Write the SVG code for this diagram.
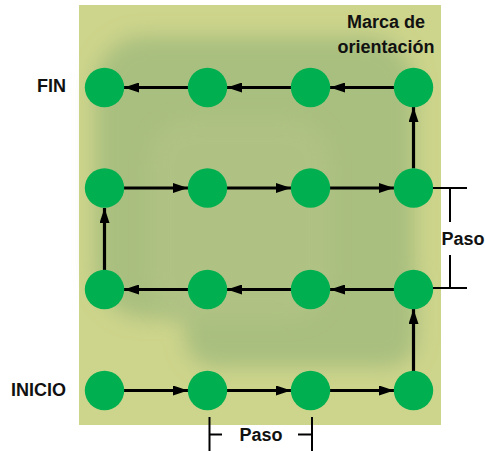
<svg xmlns="http://www.w3.org/2000/svg" width="485" height="451" viewBox="0 0 485 451">
  <style>
    .dot { fill: #00b050; }
    .link { stroke: #000; stroke-width: 3.2; fill: none; marker-end: url(#head); }
    .dim { stroke: #000; stroke-width: 2; fill: none; }
    .lbl { font-family: "Liberation Sans", Arial, sans-serif; font-weight: bold; font-size: 18px; fill: #111; }
  </style>
  <defs>
    <marker id="head" viewBox="0 0 15 10" refX="15" refY="5" markerWidth="15" markerHeight="10" markerUnits="userSpaceOnUse" orient="auto">
      <path d="M0,0 L15,5 L0,10 Z" fill="#000"/>
    </marker>
    <filter id="soft" x="-20%" y="-20%" width="140%" height="140%">
      <feGaussianBlur stdDeviation="10"/>
    </filter>
  </defs>

  <!-- board -->
  <rect x="79" y="5" width="362" height="420" fill="#cdd48b"/>
  <g filter="url(#soft)" fill="#a9bf7f">
    <rect x="95" y="36" width="320" height="282" rx="50"/>
    <rect x="185" y="250" width="232" height="117" rx="30"/>
  </g>
  <g filter="url(#soft)" fill="#b3c486" opacity="0.7">
    <rect x="150" y="120" width="180" height="200" rx="40"/>
  </g>

  <!-- connectors -->
  <g id="connectors">
    <!-- row 4: left to right -->
    <line class="link" x1="124" y1="390.5" x2="188" y2="390.5"/>
    <line class="link" x1="227" y1="390.5" x2="291" y2="390.5"/>
    <line class="link" x1="330" y1="390.5" x2="394" y2="390.5"/>
    <!-- up to row 3 -->
    <line class="link" x1="413.5" y1="371" x2="413.5" y2="309"/>
    <!-- row 3: right to left -->
    <line class="link" x1="394" y1="289.5" x2="330" y2="289.5"/>
    <line class="link" x1="291" y1="289.5" x2="227" y2="289.5"/>
    <line class="link" x1="188" y1="289.5" x2="124" y2="289.5"/>
    <!-- up to row 2 -->
    <line class="link" x1="104.5" y1="270" x2="104.5" y2="208"/>
    <!-- row 2: left to right -->
    <line class="link" x1="124" y1="188" x2="188" y2="188"/>
    <line class="link" x1="227" y1="188" x2="291" y2="188"/>
    <line class="link" x1="330" y1="188" x2="394" y2="188"/>
    <!-- up to row 1 -->
    <line class="link" x1="413.5" y1="168.5" x2="413.5" y2="107"/>
    <!-- row 1: right to left -->
    <line class="link" x1="394" y1="87.5" x2="330" y2="87.5"/>
    <line class="link" x1="291" y1="87.5" x2="227" y2="87.5"/>
    <line class="link" x1="188" y1="87.5" x2="124" y2="87.5"/>
  </g>

  <!-- nodes -->
  <g id="r1c1"><circle class="dot" cx="104.5" cy="87.5" r="19.7"/></g>
  <g id="r1c2"><circle class="dot" cx="207.5" cy="87.5" r="19.7"/></g>
  <g id="r1c3"><circle class="dot" cx="310.5" cy="87.5" r="19.7"/></g>
  <g id="r1c4"><circle class="dot" cx="413.5" cy="87.5" r="19.7"/></g>
  <g id="r2c1"><circle class="dot" cx="104.5" cy="188" r="19.7"/></g>
  <g id="r2c2"><circle class="dot" cx="207.5" cy="188" r="19.7"/></g>
  <g id="r2c3"><circle class="dot" cx="310.5" cy="188" r="19.7"/></g>
  <g id="r2c4"><circle class="dot" cx="413.5" cy="188" r="19.7"/></g>
  <g id="r3c1"><circle class="dot" cx="104.5" cy="289.5" r="19.7"/></g>
  <g id="r3c2"><circle class="dot" cx="207.5" cy="289.5" r="19.7"/></g>
  <g id="r3c3"><circle class="dot" cx="310.5" cy="289.5" r="19.7"/></g>
  <g id="r3c4"><circle class="dot" cx="413.5" cy="289.5" r="19.7"/></g>
  <g id="r4c1"><circle class="dot" cx="104.5" cy="390.5" r="19.7"/></g>
  <g id="r4c2"><circle class="dot" cx="207.5" cy="390.5" r="19.7"/></g>
  <g id="r4c3"><circle class="dot" cx="310.5" cy="390.5" r="19.7"/></g>
  <g id="r4c4"><circle class="dot" cx="413.5" cy="390.5" r="19.7"/></g>

  <!-- labels -->
  <text class="lbl" x="66" y="92" text-anchor="end">FIN</text>
  <text class="lbl" x="66" y="396" text-anchor="end">INICIO</text>
  <text class="lbl" x="386" y="28" text-anchor="middle">Marca de</text>
  <text class="lbl" x="386" y="53" text-anchor="middle">orientación</text>

  <!-- vertical pitch dimension -->
  <g id="paso-v">
    <line class="dim" x1="433" y1="188" x2="467" y2="188"/>
    <line class="dim" x1="433" y1="288" x2="467" y2="288"/>
    <line class="dim" x1="450" y1="188" x2="450" y2="222"/>
    <line class="dim" x1="450" y1="255" x2="450" y2="288"/>
    <text class="lbl" x="463" y="245" text-anchor="middle">Paso</text>
  </g>

  <!-- horizontal pitch dimension -->
  <g id="paso-h">
    <line class="dim" x1="209.5" y1="417" x2="209.5" y2="451"/>
    <line class="dim" x1="312" y1="417" x2="312" y2="451"/>
    <line class="dim" x1="209.5" y1="434.5" x2="222" y2="434.5"/>
    <line class="dim" x1="298" y1="434.5" x2="312" y2="434.5"/>
    <text class="lbl" x="261" y="441" text-anchor="middle">Paso</text>
  </g>
</svg>
